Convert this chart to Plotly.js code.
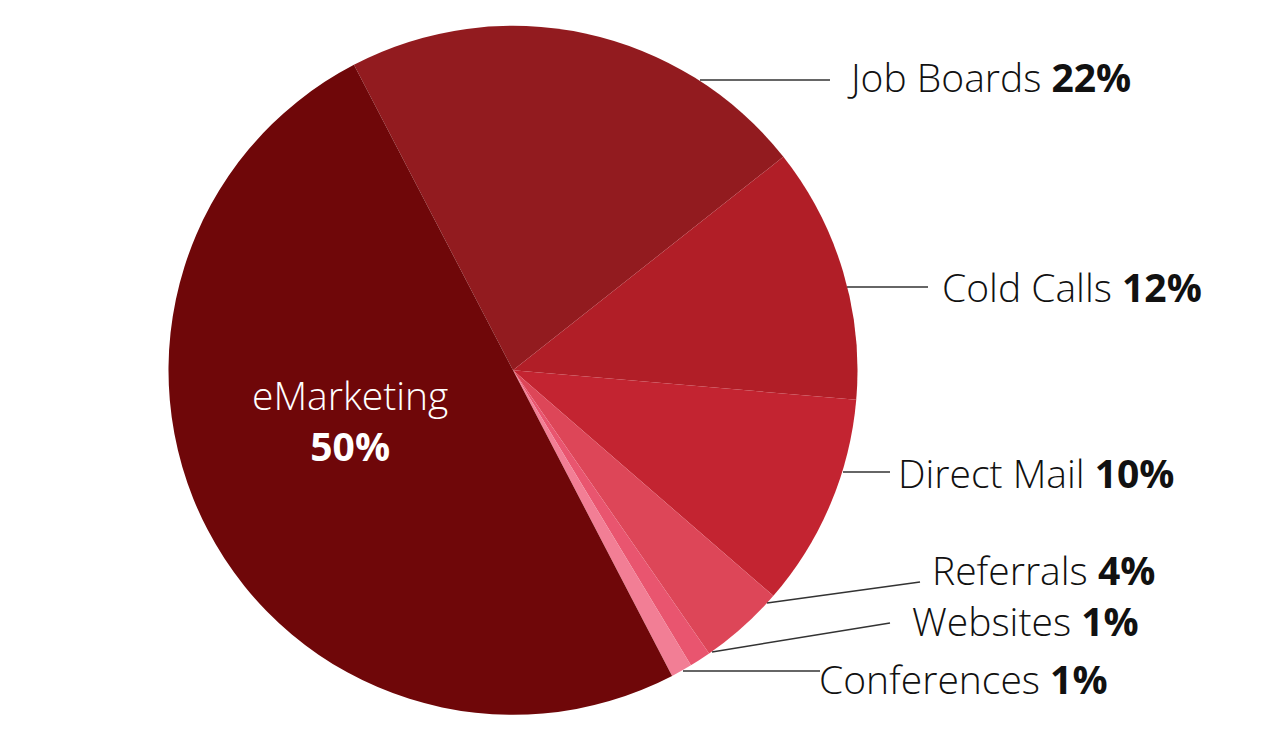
<!DOCTYPE html>
<html>
<head>
<meta charset="utf-8">
<script src="https://cdn.plot.ly/plotly-3.0.1.min.js"></script>
<style>html,body{margin:0;padding:0;background:#fff;}#chart{width:1276px;height:732px;}</style>
</head>
<body>
<div id="chart"></div>
<script>
var categories = ["Job Boards", "Cold Calls", "Direct Mail", "Referrals", "Websites", "Conferences", "eMarketing"];
var shares = [22, 12, 10, 4, 1, 1, 50];
var sliceColors = ["#921b1f", "#b11e27", "#c32431", "#dd4658", "#e9556f", "#f27e95", "#6f0709"];

var W = 1276, H = 732;
function px(x) { return x / W; }
function py(y) { return 1 - y / H; }

// label layout (pixel positions): text anchor and leader line
var labelPos = [
  {tx: 845, ty: 77, l: [700, 80, 830, 80]},
  {tx: 940, ty: 287, l: [847, 287, 928, 287]},
  {tx: 896, ty: 472, l: [843, 472, 890, 472]},
  {tx: 930, ty: 569, l: [767, 603, 920, 582]},
  {tx: 910, ty: 620, l: [712, 652, 890, 623]},
  {tx: 817, ty: 678, l: [683, 671, 820, 671]}
];

var fontFam = "'Open Sans', Lato, sans-serif";
var fsize = 39;
var annotations = [];
var shapes = [];
for (var i = 0; i < labelPos.length; i++) {
  var p = labelPos[i];
  annotations.push({
    x: px(p.tx), y: py(p.ty), xref: "paper", yref: "paper",
    xanchor: "left", yanchor: "middle", showarrow: false,
    text: categories[i] + " <b>" + shares[i] + "%</b>",
    font: {family: fontFam, size: fsize, color: "#111", weight: 300}
  });
  shapes.push({
    type: "line", xref: "paper", yref: "paper",
    x0: px(p.l[0]), y0: py(p.l[1]), x1: px(p.l[2]), y1: py(p.l[3]),
    line: {color: "#333", width: 1.5}
  });
}
annotations.push({
  x: px(350), y: py(420), xref: "paper", yref: "paper",
  xanchor: "center", yanchor: "middle", showarrow: false, align: "center",
  text: categories[6] + "<br><b>" + shares[6] + "%</b>",
  font: {family: fontFam, size: fsize, color: "#fff", weight: 300}
});

var cx = 513, cy = 370.3, r = 344.5;
var trace = {
  type: "pie",
  labels: categories,
  values: shares,
  sort: false,
  direction: "clockwise",
  rotation: -27.5,
  textinfo: "none",
  hoverinfo: "label+percent",
  marker: {colors: sliceColors, line: {width: 0}},
  domain: {x: [px(cx - r), px(cx + r)], y: [py(cy + r), py(cy - r)]},
  showlegend: false
};

var layout = {
  width: W, height: H,
  margin: {l: 0, r: 0, t: 0, b: 0},
  paper_bgcolor: "#fff",
  showlegend: false,
  annotations: annotations,
  shapes: shapes
};

Plotly.newPlot("chart", [trace], layout, {displayModeBar: false, staticPlot: true});
</script>
</body>
</html>
